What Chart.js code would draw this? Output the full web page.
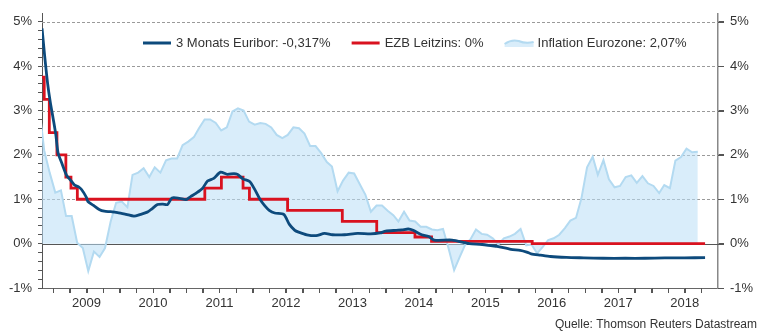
<!DOCTYPE html>
<html><head><meta charset="utf-8">
<script src="https://cdn.jsdelivr.net/npm/chart.js@4.4.1/dist/chart.umd.min.js"></script>
<style>html,body{margin:0;padding:0;background:#fff;}#wrap{width:769px;height:334px;position:relative;}</style>
</head><body><div id="wrap"><canvas id="c" width="769" height="334"></canvas></div>
<script>
// ---------- data ----------
const inflationMonths = [
 "2008-10","2008-11","2008-12",
 "2009-01","2009-02","2009-03","2009-04","2009-05","2009-06","2009-07","2009-08","2009-09","2009-10","2009-11","2009-12",
 "2010-01","2010-02","2010-03","2010-04","2010-05","2010-06","2010-07","2010-08","2010-09","2010-10","2010-11","2010-12",
 "2011-01","2011-02","2011-03","2011-04","2011-05","2011-06","2011-07","2011-08","2011-09","2011-10","2011-11","2011-12",
 "2012-01","2012-02","2012-03","2012-04","2012-05","2012-06","2012-07","2012-08","2012-09","2012-10","2012-11","2012-12",
 "2013-01","2013-02","2013-03","2013-04","2013-05","2013-06","2013-07","2013-08","2013-09","2013-10","2013-11","2013-12",
 "2014-01","2014-02","2014-03","2014-04","2014-05","2014-06","2014-07","2014-08","2014-09","2014-10","2014-11","2014-12",
 "2015-01","2015-02","2015-03","2015-04","2015-05","2015-06","2015-07","2015-08","2015-09","2015-10","2015-11","2015-12",
 "2016-01","2016-02","2016-03","2016-04","2016-05","2016-06","2016-07","2016-08","2016-09","2016-10","2016-11","2016-12",
 "2017-01","2017-02","2017-03","2017-04","2017-05","2017-06","2017-07","2017-08","2017-09","2017-10","2017-11","2017-12",
 "2018-01","2018-02","2018-03","2018-04","2018-05","2018-06","2018-07","2018-08","2018-09"
];
const inflationValues = [
 3.2, 2.1, 1.6,
 1.15, 1.2, 0.62, 0.62, 0.02, -0.1, -0.62, -0.18, -0.3, -0.1, 0.5, 0.92,
 0.95, 0.82, 1.55, 1.6, 1.7, 1.5, 1.72, 1.6, 1.88, 1.92, 1.92, 2.22,
 2.3, 2.4, 2.6, 2.8, 2.8, 2.72, 2.55, 2.62, 2.98, 3.05, 3.0, 2.75,
 2.68, 2.72, 2.7, 2.62, 2.45, 2.38, 2.45, 2.62, 2.6, 2.48, 2.2, 2.2,
 2.04, 1.84, 1.74, 1.18, 1.42, 1.6, 1.58, 1.34, 1.1, 0.72, 0.86, 0.86,
 0.74, 0.64, 0.5, 0.72, 0.52, 0.5, 0.38, 0.38, 0.32, 0.3, 0.33, -0.1,
 -0.6, -0.3, -0.04, 0.1, 0.32, 0.22, 0.2, 0.12, -0.02, 0.12, 0.16, 0.22,
 0.33, -0.04, -0.02, -0.22, -0.08, 0.08, 0.12, 0.2, 0.35, 0.52, 0.58, 1.02,
 1.72, 1.96, 1.55, 1.88, 1.45, 1.27, 1.3, 1.5, 1.54, 1.37, 1.52, 1.36,
 1.3, 1.14, 1.32, 1.25, 1.87, 1.95, 2.14, 2.06, 2.07
];
const euriborDates = [
 "2008-10-31","2008-11-14","2008-12-01","2008-12-15","2009-01-01","2009-01-15","2009-01-27","2009-02-18",
 "2009-03-15","2009-04-08","2009-04-28","2009-05-20","2009-06-05","2009-07-01","2009-07-10","2009-08-10",
 "2009-09-10","2009-10-08","2009-11-10","2009-12-20","2010-02-05","2010-03-20","2010-04-25","2010-06-01",
 "2010-06-25","2010-07-27","2010-08-25","2010-09-20","2010-10-15","2010-11-25","2010-12-31","2011-01-25",
 "2011-02-25","2011-04-01","2011-04-28","2011-06-01","2011-07-08","2011-08-15","2011-09-20","2011-10-10",
 "2011-11-08","2011-12-15","2012-01-15","2012-02-10","2012-03-08","2012-04-01","2012-05-01","2012-06-20",
 "2012-07-20","2012-08-20","2012-09-10","2012-10-25","2012-12-15","2013-01-30","2013-03-15","2013-05-20",
 "2013-07-30","2013-10-10","2013-12-01","2014-01-01","2014-02-28","2014-04-01","2014-05-05","2014-06-01",
 "2014-07-18","2014-08-25","2014-09-25","2014-12-31","2015-03-15","2015-04-05","2015-06-15","2015-08-10",
 "2015-09-05","2015-11-20","2016-01-10","2016-02-15","2016-03-10","2016-04-30","2016-06-25","2016-09-20",
 "2016-12-25","2017-04-10","2017-08-10","2017-11-25","2018-03-15","2018-07-01","2018-10-22"
];
const euriborValues = [
 4.85, 4.25, 3.60, 3.20, 2.80, 2.45, 2.05, 1.80,
 1.54, 1.42, 1.32, 1.28, 1.22, 1.05, 0.95, 0.86,
 0.77, 0.73, 0.72, 0.70, 0.66, 0.62, 0.66, 0.71,
 0.78, 0.88, 0.89, 0.88, 1.03, 1.02, 0.99, 1.06,
 1.14, 1.25, 1.41, 1.47, 1.61, 1.56, 1.58, 1.56,
 1.46, 1.40, 1.20, 1.00, 0.85, 0.75, 0.69, 0.66,
 0.44, 0.30, 0.26, 0.20, 0.18, 0.23, 0.20, 0.20,
 0.23, 0.22, 0.24, 0.28, 0.30, 0.31, 0.33, 0.30,
 0.20, 0.16, 0.08, 0.08, 0.02, 0.00, -0.02, -0.05,
 -0.06, -0.13, -0.15, -0.19, -0.23, -0.26, -0.29, -0.31,
 -0.32, -0.33, -0.33, -0.33, -0.32, -0.32, -0.317
];
const ecbDates = [
 "2008-10-15","2008-11-12","2008-12-10","2009-01-21","2009-03-11","2009-04-08","2009-05-13",
 "2011-04-13","2011-07-13","2011-11-09","2011-12-14","2012-07-11","2013-05-08","2013-11-13",
 "2014-06-11","2014-09-10","2016-03-16","2018-10-22"
];
const ecbValues = [
 3.75, 3.25, 2.50, 2.00, 1.50, 1.25, 1.00,
 1.25, 1.50, 1.25, 1.00, 0.75, 0.50, 0.25,
 0.15, 0.05, 0.00, 0.00
];
const yearLabels = ["2009","2010","2011","2012","2013","2014","2015","2016","2017","2018"];
const yTickValues = [-1, 0, 1, 2, 3, 4, 5];
const seriesLabels = ["3 Monats Euribor: -0,317%", "EZB Leitzins: 0%", "Inflation Eurozone: 2,07%"];
const sourceText = "Quelle: Thomson Reuters Datastream";

// ---------- helpers ----------
function decYear(s) {
  const p = s.split('-').map(Number);
  const y = p[0], m = p[1], d = p[2] || 12;
  const start = Date.UTC(y, 0, 1), end = Date.UTC(y + 1, 0, 1);
  return y + (Date.UTC(y, m - 1, d) - start) / (end - start);
}
const toPts = (dates, vals) => dates.map((d, i) => ({x: decYear(d), y: vals[i]}));

const xTicks = [];
yearLabels.forEach(y => { const n = Number(y); [0, 0.25, 0.5, 0.75].forEach(q => xTicks.push(n + q)); });
const yMinorTicks = [];
for (let i = 0; i < yTickValues.length - 1; i++) {
  for (let k = 0; k < 5; k++) yMinorTicks.push(Math.round((yTickValues[i] + k * 0.2) * 10) / 10);
}
yMinorTicks.push(yTickValues[yTickValues.length - 1]);

const FONT = "'Liberation Sans', Arial, sans-serif";
const C_EUR = '#0d4a7c', C_ECB = '#d9121f', C_INF = '#b3daf1', C_INF_FILL = 'rgba(186,223,246,0.55)';
const Y_MIN = -1, Y_MAX = 5.18;

// ---------- plugins ----------
const gridAndZero = {
  id: 'gridAndZero',
  beforeDatasetsDraw(chart) {
    const {ctx, chartArea: a, scales: {y}} = chart;
    ctx.save();
    ctx.lineWidth = 1;
    ctx.strokeStyle = '#9a9a9a';
    ctx.setLineDash([3, 2]);
    yTickValues.forEach(v => {
      if (v === 0 || v === Y_MIN) return;
      const py = Math.round(y.getPixelForValue(v)) + 0.5;
      ctx.beginPath(); ctx.moveTo(a.left, py); ctx.lineTo(a.right, py); ctx.stroke();
    });
    ctx.setLineDash([]);
    ctx.strokeStyle = '#555';
    const pz = Math.round(y.getPixelForValue(0)) + 0.5;
    ctx.beginPath(); ctx.moveTo(a.left, pz); ctx.lineTo(a.right, pz); ctx.stroke();
    ctx.restore();
  },
  afterDraw(chart) {
    const {ctx, chartArea: a, scales: {x, y2}} = chart;
    ctx.save();
    ctx.lineWidth = 1;
    ctx.strokeStyle = '#555';
    ctx.beginPath();
    xTicks.forEach(v => {
      const px = Math.round(x.getPixelForValue(v)) + 0.5;
      ctx.moveTo(px, a.bottom); ctx.lineTo(px, a.bottom + 5);
    });
    yTickValues.forEach(v => {
      const py = Math.round(y2.getPixelForValue(v)) + 0.5;
      ctx.moveTo(a.right, py); ctx.lineTo(a.right + 6, py);
    });
    ctx.stroke();
    ctx.restore();
  }
};
const innerLegend = {
  id: 'innerLegend',
  afterDraw(chart) {
    const ctx = chart.ctx;
    ctx.save();
    ctx.font = '13px ' + FONT;
    ctx.textBaseline = 'middle';
    ctx.fillStyle = '#333';
    const y = 43;
    let x = chart.chartArea.left + 101;
    const sw = 28, gapT = 5, gapItem = 21;
    seriesLabels.forEach((lab, i) => {
      if (i < 2) {
        ctx.strokeStyle = i === 0 ? C_EUR : C_ECB;
        ctx.lineWidth = 3;
        ctx.beginPath(); ctx.moveTo(x, y); ctx.lineTo(x + sw, y); ctx.stroke();
      } else {
        const wave = () => {
          ctx.moveTo(x, y + 1);
          ctx.quadraticCurveTo(x + 7, y - 4, x + 14, y - 2);
          ctx.quadraticCurveTo(x + 21, y + 1, x + sw + 1, y - 1);
        };
        ctx.beginPath(); wave();
        ctx.lineTo(x + sw + 1, y + 4); ctx.lineTo(x, y + 4); ctx.closePath();
        ctx.fillStyle = C_INF_FILL; ctx.fill();
        ctx.beginPath(); wave();
        ctx.strokeStyle = C_INF; ctx.lineWidth = 2; ctx.stroke();
        ctx.fillStyle = '#333';
      }
      ctx.fillText(lab, x + sw + gapT, y);
      x += sw + gapT + ctx.measureText(lab).width + gapItem;
    });
    ctx.font = '12px ' + FONT;
    ctx.textAlign = 'right';
    ctx.fillStyle = '#333';
    ctx.fillText(sourceText, 757, 325);
    ctx.restore();
  }
};

// ---------- chart ----------
new Chart(document.getElementById('c'), {
  type: 'line',
  data: {
    datasets: [
      {label: seriesLabels[0], data: toPts(euriborDates, euriborValues), borderColor: C_EUR, borderWidth: 2.8,
       pointRadius: 0, tension: 0.25, fill: false, order: 1},
      {label: seriesLabels[1], data: toPts(ecbDates, ecbValues), borderColor: C_ECB, borderWidth: 2.8,
       pointRadius: 0, stepped: true, fill: false, order: 2},
      {label: seriesLabels[2], data: toPts(inflationMonths, inflationValues), borderColor: C_INF, borderWidth: 2,
       backgroundColor: C_INF_FILL, pointRadius: 0, tension: 0, fill: 'origin', order: 3}
    ]
  },
  options: {
    responsive: false, animation: false, devicePixelRatio: 1,
    layout: {padding: {top: 8, left: 0, right: 0, bottom: 0}},
    plugins: {legend: {display: false}, tooltip: {enabled: false}},
    scales: {
      x: {
        type: 'linear', min: 2008.83, max: 2019.0,
        afterBuildTicks: s => { s.ticks = xTicks.map(v => ({value: v})); },
        afterFit: s => { s.height = 46; },
        ticks: {autoSkip: false, maxRotation: 0, padding: 3, color: '#333', font: {family: FONT, size: 13},
          callback: v => (Math.abs((v % 1) - 0.5) < 1e-6 ? String(Math.floor(v)) : '')},
        grid: {display: true, drawOnChartArea: false, drawTicks: true, tickLength: 5, color: '#555'},
        border: {display: true, color: '#666', width: 1}
      },
      y: {
        position: 'left', min: Y_MIN, max: Y_MAX,
        afterBuildTicks: s => { s.ticks = yMinorTicks.map(v => ({value: v})); },
        afterFit: s => { s.width = 42; },
        ticks: {autoSkip: false, padding: 6, color: '#333', font: {family: FONT, size: 13},
          callback: v => (Number.isInteger(Math.round(v * 10) / 10) ? v + '%' : '')},
        grid: {drawOnChartArea: false, drawTicks: true, tickLength: 4, color: '#555'},
        border: {display: true, color: '#555', width: 1}
      },
      y2: {
        position: 'right', min: Y_MIN, max: Y_MAX,
        afterBuildTicks: s => { s.ticks = yTickValues.map(v => ({value: v})); },
        afterFit: s => { s.width = 51; },
        ticks: {autoSkip: false, padding: 6, color: '#333', font: {family: FONT, size: 13},
          callback: v => v + '%'},
        grid: {display: true, drawOnChartArea: false, drawTicks: true, tickLength: 6, color: '#555'},
        border: {display: true, color: '#888', width: 1.5}
      }
    }
  },
  plugins: [gridAndZero, innerLegend]
});
</script>
</body></html>
